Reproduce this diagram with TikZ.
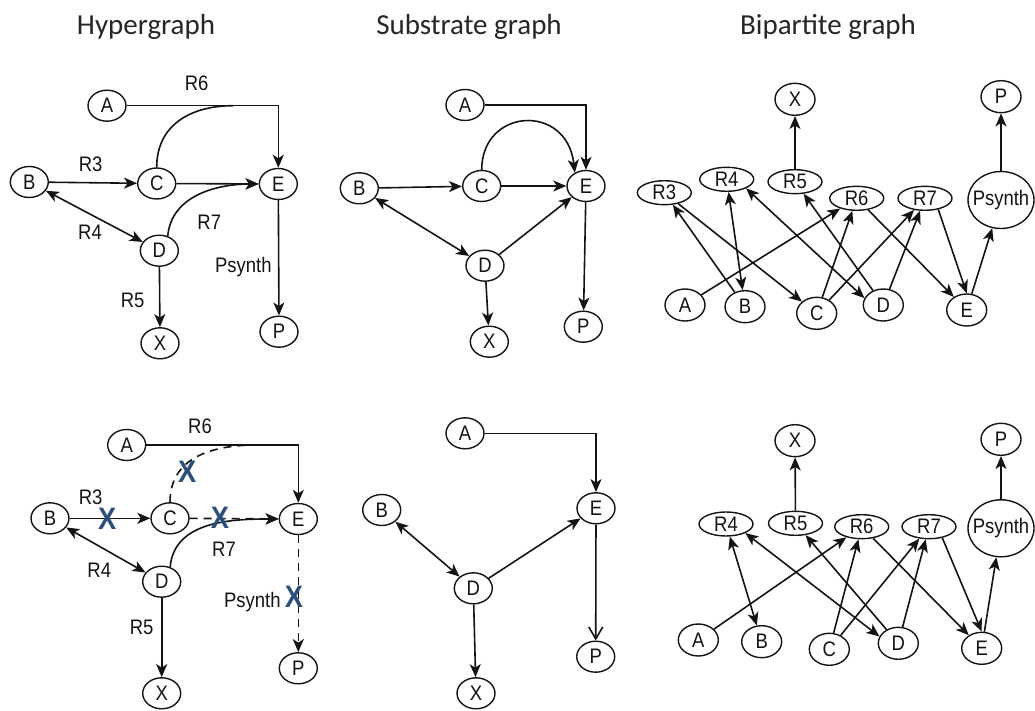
\documentclass[tikz,border=0pt]{standalone}
\usepackage{fontspec}
\setmainfont{Liberation Sans}[FakeStretch=0.88]
\newfontfamily\titlefont{Carlito}
\usetikzlibrary{arrows.meta,shapes.geometric}
\definecolor{xblue}{RGB}{42,78,128}
\begin{document}
\begin{tikzpicture}[x=1pt,y=1pt, line width=1.6pt, color=black!92,
  >={Stealth[length=13pt,width=11pt,inset=3.5pt]},
  nd/.style={draw, ellipse, minimum width=38pt, minimum height=31pt, inner sep=0pt,
    font=\fontsize{21}{21}\selectfont, line width=1.4pt, fill=white},
  bn/.style={nd, minimum width=40pt, minimum height=32pt},
  rn/.style={nd, minimum width=54pt, minimum height=24pt},
  sn/.style={nd, minimum width=66pt, minimum height=57pt, inner xsep=-6pt},
  lab/.style={font=\fontsize{21}{21}\selectfont, inner sep=0pt},
  ttl/.style={font=\titlefont\fontsize{29}{30}\selectfont, anchor=base, text=black!85},
  xm/.style={text=xblue, font=\fontsize{31}{31}\selectfont\bfseries, inner sep=0pt},
  dsh/.style={dash pattern=on 8pt off 6pt},
  barb/.style={-{Straight Barb[length=12pt,width=14pt]}}]
\useasboundingbox (0,0) rectangle (1035,710);

% titles
\node[ttl] (t1) at (146,675) {Hypergraph};
\node[ttl] (t2) at (469,675) {Substrate graph};
\node[ttl] (t3t) at (828,675) {Bipartite graph};

% ---------- Hypergraph top ----------
\node[nd] (hA) at (107,604.3) {A};
\node[nd] (hB) at (29.3,528) {B};
\node[nd] (hC) at (156.7,526.5) {C};
\node[nd] (hE) at (278.3,526) {E};
\node[nd] (hD) at (159.3,459.3) {D};
\node[nd] (hX) at (160,366.7) {X};
\node[nd] (hP) at (279,378.3) {P};
\coordinate (hj) at (233,604.3);
\draw[->] (hA) -| (hE);
\draw (hC.north) to[out=90,in=180,looseness=1.1] (hj);
\draw[->] (hB) -- (hC);
\draw[->] (hC) -- (hE);
\draw[->] (hD.60) to[out=85,in=180] (hE.west);
\draw[<->] (hB) -- (hD);
\draw[->] (hD) -- (hX);
\draw[->] (hE) -- (hP);
\node[lab] (hl6) at (196.7,626.7) {R6};
\node[lab] (hl3) at (90.7,546) {R3};
\node[lab] (hl4) at (90,477.7) {R4};
\node[lab] (hl7) at (209.3,487.7) {R7};
\node[lab] (hlp) at (243.3,442.7) {Psynth};
\node[lab] (hl5) at (132.7,409.3) {R5};

% ---------- Hypergraph bottom ----------
\node[nd] (gA) at (126.7,265) {A};
\node[nd] (gB) at (50,191.7) {B};
\node[nd] (gC) at (170,191.7) {C};
\node[nd] (gE) at (298.3,191) {E};
\node[nd] (gD) at (161.7,128.3) {D};
\node[nd] (gX) at (161.7,16.7) {X};
\node[nd] (gP) at (298.3,41.7) {P};
\coordinate (gj) at (256.7,265);
\draw[->] (gA) -| (gE);
\draw[dsh] (gC.north) to[out=90,in=180,looseness=1.1] (gj);
\draw[->] (gB) -- (gC);
\draw[->,dsh] (gC) -- (gE);
\draw[->] (gD.60) to[out=85,in=180] (gE.west);
\draw[<->] (gB) -- (gD);
\draw[->] (gD) -- (gX);
\draw[->,dsh] (gE) -- (gP);
\node[lab] (gl6) at (200,283.3) {R6};
\node[lab] (gl3) at (90.7,212.7) {R3};
\node[lab] (gl4) at (99.3,139.3) {R4};
\node[lab] (gl7) at (224,160.7) {R7};
\node[lab] (glp) at (252.3,108.3) {Psynth};
\node[lab] (gl5) at (141.7,82.3) {R5};
\node[xm] (gx1) at (107.3,190.7) {X};
\node[xm] (gx2) at (187.3,238.3) {X};
\node[xm] (gx3) at (220,191.7) {X};
\node[xm] (gx4) at (294,113.3) {X};

% ---------- Substrate top ----------
\node[nd] (sA) at (465,605) {A};
\node[nd] (sB) at (359.3,521.7) {B};
\node[nd] (sC) at (481.7,524) {C};
\node[nd] (sE) at (586,524) {E};
\node[nd] (sD) at (485,444.3) {D};
\node[nd] (sX) at (489.3,368.3) {X};
\node[nd] (sP) at (583.3,383.3) {P};
\draw[->] (sA) -| (sE);
\draw[->] (sC.north) .. controls +(0,62) and +(-8,70) .. (sE.130);
\draw[->] (sB) -- (sC);
\draw[->] (sC) -- (sE);
\draw[<->] (sB) -- (sD);
\draw[->] (sD) -- (sE);
\draw[->] (sD) -- (sX);
\draw[->] (sE) -- (sP);

% ---------- Substrate bottom ----------
\node[nd] (bA) at (465,276.7) {A};
\node[nd] (bB) at (381.7,200) {B};
\node[nd] (bE) at (596,201.7) {E};
\node[nd] (bD) at (473.3,121.7) {D};
\node[nd] (bX) at (476,16.7) {X};
\node[nd] (bP) at (595.7,53.3) {P};
\draw[->] (bA) -| (bE);
\draw[<->] (bB) -- (bD);
\draw[->] (bD) -- (bE);
\draw[->] (bD) -- (bX);
\draw[barb] (bE) -- (bP);

% ---------- Bipartite top ----------
\node[bn] (tX) at (795,610.7) {X};
\node[bn] (tP) at (1001,613.3) {P};
\node[rn] (t3) at (664.3,517.3) {R3};
\node[rn] (t4) at (726.7,530.7) {R4};
\node[rn] (t5) at (795,528.3) {R5};
\node[rn] (t6) at (856.7,511.7) {R6};
\node[rn] (t7) at (925,511.7) {R7};
\node[sn] (tS) at (1001,510) {Psynth};
\node[bn] (tA) at (685,405) {A};
\node[bn] (tB) at (745,403.3) {B};
\node[bn] (tC) at (816.7,396.7) {C};
\node[bn] (tD) at (883.3,405) {D};
\node[bn] (tE) at (966.7,400) {E};
\draw[->] (t5) -- (tX);
\draw[->] (tS) -- (tP);
\draw[->] (tB) -- (t3);
\draw[->] (t3) -- (tC);
\draw[<->] (t4) -- (tB);
\draw[<->] (t4.-25) -- (tD.160);
\draw[->] (tD) -- (t5);
\draw[->] (tA) -- (t6);
\draw[->] (tC) -- (t6);
\draw[->] (tC) -- (t7);
\draw[->] (tD) -- (t7);
\draw[->] (t6) -- (tE);
\draw[->] (t7.-40) -- (tE.north);
\draw[->] (tE) -- (tS);

% ---------- Bipartite bottom ----------
\node[bn] (uX) at (795,269.3) {X};
\node[bn] (uP) at (1001,270.7) {P};
\node[rn] (u4) at (726,186) {R4};
\node[rn] (u5) at (795.5,186.7) {R5};
\node[rn] (u6) at (861.7,183.3) {R6};
\node[rn] (u7) at (929,183.3) {R7};
\node[sn] (uS) at (1001,181.7) {Psynth};
\node[bn] (uA) at (698.3,70) {A};
\node[bn] (uB) at (761.7,68.3) {B};
\node[bn] (uC) at (829.3,60.7) {C};
\node[bn] (uD) at (898.3,66.7) {D};
\node[bn] (uE) at (981.7,61.7) {E};
\draw[->] (u5) -- (uX);
\draw[->] (uS) -- (uP);
\draw[<->] (u4) -- (uB);
\draw[<->] (u4.-25) -- (uD.160);
\draw[->] (uD) -- (u5);
\draw[->] (uA) -- (u6);
\draw[->] (uC) -- (u6);
\draw[->] (uC) -- (u7);
\draw[->] (uD) -- (u7);
\draw[->] (u6) -- (uE);
\draw[->] (u7.-40) -- (uE.north);
\draw[->] (uE) -- (uS);
\end{tikzpicture}
\end{document}
